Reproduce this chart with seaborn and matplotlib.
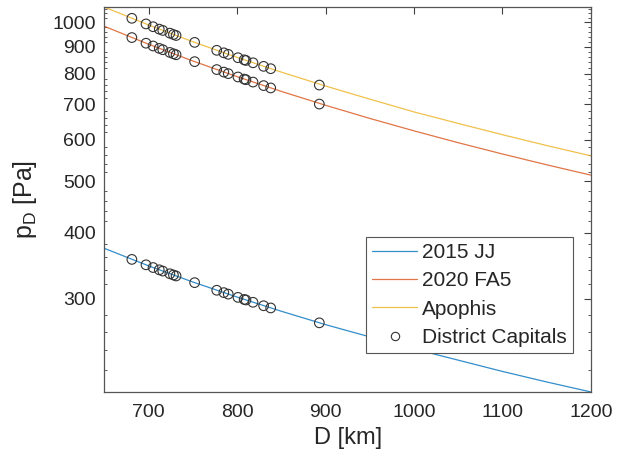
import matplotlib
matplotlib.use("Agg")
import matplotlib.pyplot as plt
from matplotlib.lines import Line2D
from matplotlib.ticker import FixedLocator, NullFormatter, FixedFormatter
import seaborn as sns
import pandas as pd

# ---- data ----
curve_D = [650, 700, 750, 800, 850, 900, 950, 1000, 1050, 1100, 1150, 1200]
p_2015JJ = [373.5, 346.1, 322.6, 302.1, 284.0, 267.9, 254.0, 241.0, 229.5, 218.5, 208.7, 199.8]
p_2020FA5 = [983, 909.1, 845.1, 789.4, 740.3, 696.9, 658.1, 623.4, 592.0, 563.6, 537.7, 514.0]
p_Apophis = [1069, 988.8, 919.2, 858.5, 805.2, 757.9, 715.8, 677.0, 643.9, 613.0, 584.8, 559.1]

capital_D = [681, 697, 705, 712, 716, 724, 728, 731, 752, 777, 785, 790, 801, 808, 810, 818, 830, 838, 893]
cap_2015JJ = [356, 347.7, 343.6, 340.2, 338.3, 334.4, 332.6, 331.2, 321.7, 311.2, 308.0, 306.0,
              301.7, 299.0, 298.3, 295.3, 290.9, 288.1, 270.0]
cap_2020FA5 = [936, 913.3, 902.3, 892.9, 887.7, 877.3, 872.2, 868.4, 842.8, 814.1, 805.3, 799.9,
               788.3, 781.1, 779.0, 771.0, 759.2, 751.5, 700.5]
cap_Apophis = [1018, 993.3, 981.3, 971.1, 965.5, 954.2, 948.6, 944.5, 916.6, 885.4, 875.8, 870.0,
               857.4, 849.5, 847.2, 838.6, 825.7, 817.3, 761.0]

series_names = ["2015 JJ", "2020 FA5", "Apophis"]
series_colors = ["#0072BD", "#D95319", "#EDB120"]
x_ticks = [700, 800, 900, 1000, 1100, 1200]
y_ticks = [300, 400, 500, 600, 700, 800, 900, 1000]

# ---- figure ----
sns.set_style("white")
plt.rcParams["font.family"] = ["Liberation Sans", "DejaVu Sans"]
plt.rcParams["mathtext.fontset"] = "custom"
plt.rcParams["mathtext.rm"] = "Liberation Sans"
plt.rcParams["mathtext.it"] = "Liberation Sans:italic"

fig = plt.figure(figsize=(6.18, 4.59), dpi=100)
ax = fig.add_axes([0.169, 0.1466, 0.787, 0.8375])

curves = [p_2015JJ, p_2020FA5, p_Apophis]
caps = [cap_2015JJ, cap_2020FA5, cap_Apophis]
for name, col, cv in zip(series_names, series_colors, curves):
    df = pd.DataFrame({"D": curve_D, "p": cv})
    sns.lineplot(data=df, x="D", y="p", ax=ax, color=col, lw=0.9, alpha=0.8)

for cp in caps:
    dfc = pd.DataFrame({"D": capital_D, "p": cp})
    sns.scatterplot(data=dfc, x="D", y="p", ax=ax, marker="o", s=48,
                    facecolor="none", edgecolor="#333333", linewidth=0.8, zorder=5)

ax.set_yscale("log")
ax.set_xlim(650, 1200)
ax.set_ylim(200, 1068)

ax.xaxis.set_major_locator(FixedLocator(x_ticks))
ax.yaxis.set_major_locator(FixedLocator(y_ticks))
ax.yaxis.set_major_formatter(FixedFormatter([str(v) for v in y_ticks]))
minor = [v for v in range(220, 1068, 20) if v not in y_ticks]
ax.yaxis.set_minor_locator(FixedLocator(minor))
ax.yaxis.set_minor_formatter(NullFormatter())

ax.tick_params(axis="both", which="major", direction="in", length=5, width=0.8,
               labelsize=14, colors="#404040", labelcolor="#262626",
               top=True, right=True)
ax.tick_params(axis="x", which="major", pad=9)
ax.tick_params(axis="y", which="major", pad=6)
ax.tick_params(axis="y", which="minor", direction="in", length=2.5, width=0.6,
               colors="#404040", right=True, left=True)
for s in ax.spines.values():
    s.set_color("#555555")
    s.set_linewidth(0.9)

ax.set_xlabel("D [km]", fontsize=17, color="#262626", labelpad=4)
ax.set_ylabel(r"p$_\mathrm{D}$ [Pa]", fontsize=18, color="#262626", labelpad=10)

handles = [Line2D([], [], color=c, lw=0.9, alpha=0.8) for c in series_colors]
handles.append(Line2D([], [], ls="none", marker="o", markersize=6,
                      markerfacecolor="none", markeredgecolor="#333333", markeredgewidth=0.8))
leg = ax.legend(handles, series_names + ["District Capitals"], loc="lower right",
                bbox_to_anchor=(573.3 / 618, 1 - 353.3 / 459), bbox_transform=fig.transFigure,
                borderaxespad=0, fontsize=15, frameon=True, fancybox=False,
                framealpha=1, edgecolor="#555555", handlelength=2.15, handletextpad=0.25,
                labelspacing=0.45, borderpad=0.3)
leg.get_frame().set_linewidth(0.8)

fig.savefig("out.png", dpi=100)
